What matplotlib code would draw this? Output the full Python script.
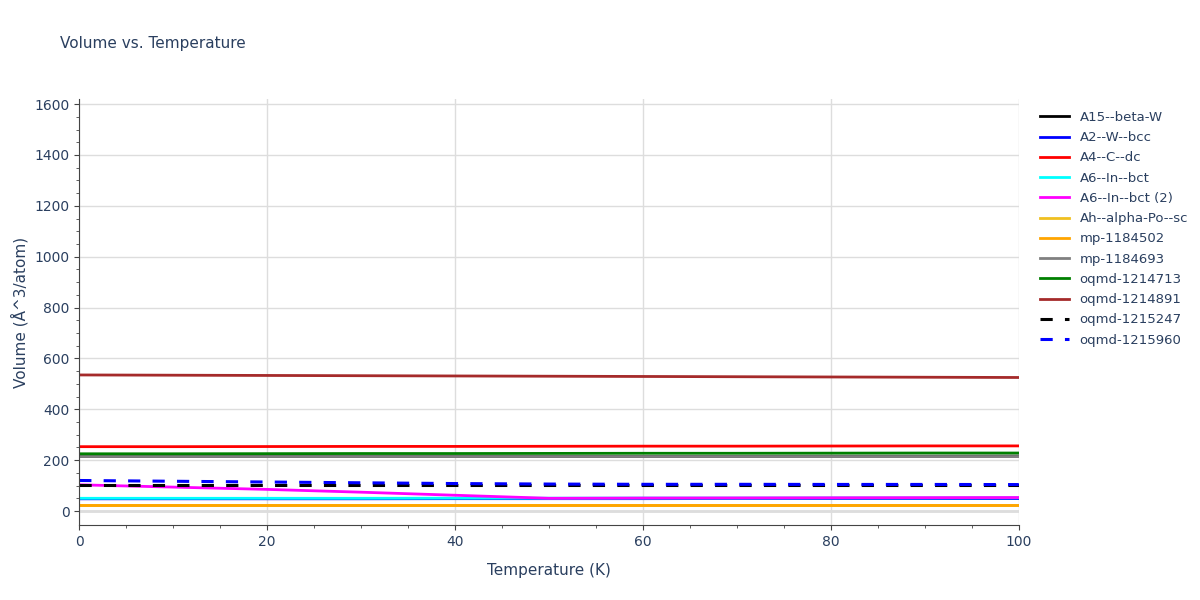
import numpy as np
import matplotlib
matplotlib.use("Agg")
import matplotlib.pyplot as plt

temps = [0, 10, 20, 30, 40, 50, 60, 70, 80, 90, 100]

names = ["A15--beta-W", "A2--W--bcc", "A4--C--dc", "A6--In--bct", "A6--In--bct (2)",
         "Ah--alpha-Po--sc", "mp-1184502", "mp-1184693", "oqmd-1214713", "oqmd-1214891",
         "oqmd-1215247", "oqmd-1215960"]
colors = ["black", "blue", "red", "cyan", "magenta", "#f0c020", "orange", "gray",
          "green", "brown", "black", "blue"]
styles = ["-"] * 10 + ["--", "--"]

volumes = [
    [215, 215, 215, 215, 215, 215, 215, 215, 215.5, 215.5, 216],
    [48, 48, 48, 48, 48.5, 48.5, 48.5, 49, 49, 49, 49],
    [253, 253, 253.5, 254, 254, 254.5, 255, 255, 255.5, 256, 256],
    [50, 50, 50, 50, 50.5, 50.5, 51, 51, 51.5, 51.5, 52],
    [103, 94, 85, 74, 62, 50, 51, 51.5, 52, 52.5, 53],
    [24, 24, 24, 24, 24, 24, 24, 24, 24, 24, 24],
    [24.5, 24.5, 24.5, 24.5, 24.5, 24.5, 24.5, 24.5, 24.5, 24.5, 24.5],
    [217, 217, 217, 217, 217, 217, 217, 217, 217, 217, 217],
    [225, 225, 225.5, 226, 226, 226.5, 227, 227, 227.5, 228, 228],
    [535, 534, 533, 532, 531, 530, 529, 528, 527, 526, 525],
    [104, 104, 104, 104, 104, 104, 104, 104, 104, 104, 104],
    [120, 117, 114, 111, 108, 106, 105, 105, 104.5, 104.5, 104],
]

fig = plt.figure(figsize=(12, 6), dpi=100)
ax = fig.add_axes([0.066, 0.125, 0.783, 0.71])
for n, c, s, v in zip(names, colors, styles, volumes):
    ax.plot(temps, v, color=c, ls=s, lw=2 if s == "-" else 2.2, label=n,
            dashes=(4, 4) if s == "--" else (None, None))

ax.set_xlim(0, 100)
ax.set_ylim(-55, 1620)
ax.set_yticks(range(0, 1601, 200))
ax.set_yticks(range(0, 1601, 50), minor=True)
ax.set_xticks(range(0, 101, 20))
ax.set_xticks(range(0, 101, 5), minor=True)
ax.grid(True, color="#dddddd", lw=1)
ax.axhline(0, color="#dddddd", lw=2, zorder=0)
for sp in ["top", "right"]:
    ax.spines[sp].set_visible(False)
for sp in ["left", "bottom"]:
    ax.spines[sp].set_color("#444444")
ax.tick_params(colors="#2a3f5f", labelsize=10)
ax.tick_params(which="both", color="#444444")
ax.set_xlabel("Temperature (K)", color="#2a3f5f", fontsize=11, labelpad=10)
ax.set_ylabel("Volume (Å^3/atom)", color="#2a3f5f", fontsize=11)
fig.text(0.05, 0.92, "Volume vs. Temperature", color="#2a3f5f", fontsize=11)
leg = ax.legend(loc="upper left", bbox_to_anchor=(1.01, 1.0), frameon=False,
                fontsize=9.5, handlelength=2.2, labelspacing=0.55)
for t in leg.get_texts():
    t.set_color("#2a3f5f")
fig.savefig("out.png")
